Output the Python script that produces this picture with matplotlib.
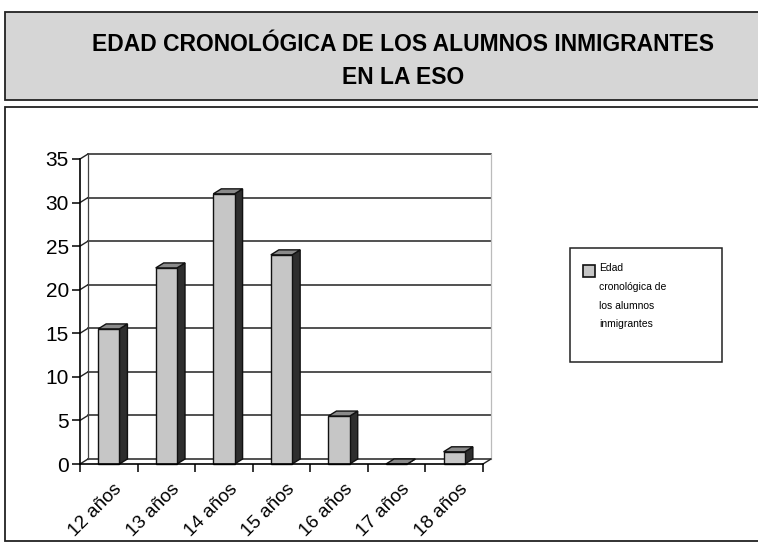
import numpy as np
import matplotlib.pyplot as plt
from matplotlib.patches import Rectangle, Polygon
import matplotlib.transforms as mtransforms

plt.rcParams['font.family'] = ['Liberation Sans', 'DejaVu Sans']

# Data
categorias = ['12 años', '13 años', '14 años', '15 años', '16 años', '17 años', '18 años']
valores = [15.5, 22.5, 31.0, 24.0, 5.5, 0.0, 1.4]
yticks = [0, 5, 10, 15, 20, 25, 30, 35]
titulo = 'EDAD CRONOLÓGICA DE LOS ALUMNOS INMIGRANTES\nEN LA ESO'
leyenda = 'Edad\ncronológica de\nlos alumnos\ninmigrantes'

W, H = 758, 545
fig = plt.figure(figsize=(W / 100, H / 100), dpi=100)

def fx(px):
    return px / W

def fy(py):
    return 1 - py / H

# title box and chart box
fig.patches.append(Rectangle((fx(5), fy(100)), fx(760) - fx(5), fy(12) - fy(100),
                             transform=fig.transFigure, facecolor='#d6d6d6',
                             edgecolor='#222222', lw=1.3, zorder=-2))
fig.patches.append(Rectangle((fx(5), fy(541)), fx(760) - fx(5), fy(107) - fy(541),
                             transform=fig.transFigure, facecolor='white',
                             edgecolor='#222222', lw=1.3, zorder=-2))
fig.text(fx(403), fy(61), titulo, ha='center', va='center', fontsize=16.5,
         fontweight='bold', linespacing=1.6)

# plot area: x 80..483 px, y 159..464 px
x0, x1, ytop, ybot = 80, 483, 159, 464
ax = fig.add_axes([fx(x0), fy(ybot), fx(x1) - fx(x0), fy(ytop) - fy(ybot)])
ax.set_zorder(2)
ax.set_xlim(0, len(categorias))
ax.set_ylim(0, 35)
ax.patch.set_alpha(0)

# depth offset of the pseudo-3D look
off_px = (8, 5)
dx = off_px[0] / ((x1 - x0) / len(categorias))
dy = off_px[1] / ((ybot - ytop) / 35)
back = ax.transData + mtransforms.ScaledTranslation(off_px[0] / 100, off_px[1] / 100,
                                                      fig.dpi_scale_trans)

# back wall gridlines and edges
n = len(categorias)
for t in yticks:
    ax.plot([0, n], [t, t], color='#222222', lw=1.1, transform=back, clip_on=False, zorder=1)
    ax.plot([0, dx], [t, t + dy], color='#222222', lw=1.0, clip_on=False, zorder=1)
ax.plot([0, 0], [0, 35], color='#444444', lw=0.9, transform=back, clip_on=False, zorder=1)
ax.plot([n, n], [0, 35], color='#bbbbbb', lw=0.9, transform=back, clip_on=False, zorder=1)
ax.plot([n, n + dx], [0, dy], color='#222222', lw=1.0, clip_on=False, zorder=1)

# bars
bw = 0.37
for i, v in enumerate(valores):
    left = i + (1 - bw) / 2
    right = left + bw
    side = Polygon([(right, 0), (right + dx, dy), (right + dx, v + dy), (right, v)],
                   closed=True, facecolor='#2e2e2e', edgecolor='#111111', lw=1.0,
                   clip_on=False, zorder=3)
    top = Polygon([(left, v), (left + dx, v + dy), (right + dx, v + dy), (right, v)],
                  closed=True, facecolor='#8a8a8a', edgecolor='#111111', lw=1.0,
                  clip_on=False, zorder=3)
    ax.add_patch(side)
    ax.add_patch(top)
    ax.bar(left, v, width=bw, align='edge', color='#c6c6c6', edgecolor='#111111',
           lw=1.0, zorder=4, clip_on=False)

# axes styling
for s in ['top', 'right']:
    ax.spines[s].set_visible(False)
ax.spines['left'].set_linewidth(1.2)
ax.spines['bottom'].set_linewidth(1.2)
ax.spines['bottom'].set_zorder(5)
ax.set_yticks(yticks)
ax.tick_params(axis='y', direction='out', length=6, width=1.1, labelsize=15, pad=2)
ax.set_xticks(np.arange(n + 1))
ax.set_xticklabels([])
ax.tick_params(axis='x', which='major', direction='out', length=6, width=1.1)
ax.set_xticks(np.arange(n) + 0.58, minor=True)
ax.set_xticklabels(categorias, minor=True, rotation=45, ha='right',
                   rotation_mode='anchor', fontsize=13.5)
ax.tick_params(axis='x', which='minor', length=0, pad=12)

# legend box
fig.patches.append(Rectangle((fx(570), fy(362)), fx(722) - fx(570), fy(248) - fy(362),
                             transform=fig.transFigure, facecolor='white',
                             edgecolor='#222222', lw=1.1, zorder=2))
fig.patches.append(Rectangle((fx(583), fy(277)), fx(595) - fx(583), fy(265) - fy(277),
                             transform=fig.transFigure, facecolor='#c6c6c6',
                             edgecolor='#111111', lw=1.2, zorder=3))
fig.text(fx(599), fy(263), leyenda, ha='left', va='top', fontsize=7.5,
         linespacing=2.1, zorder=4)

fig.savefig('out.png', dpi=100)
